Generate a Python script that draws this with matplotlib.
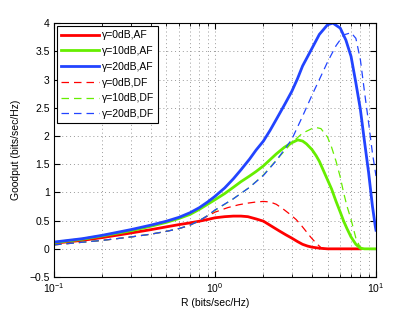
import matplotlib
matplotlib.use("Agg")
import matplotlib.pyplot as plt
from matplotlib.ticker import FixedLocator, LogLocator, NullFormatter

# values (R in bits/sec/Hz, goodput in bits/sec/Hz)
r_red_af = [0.1, 0.15, 0.2, 0.3, 0.4, 0.5, 0.6, 0.7, 0.8, 0.9, 1.0, 1.15, 1.3, 1.45, 1.6, 1.8,
            2.0, 2.25, 2.5, 2.75, 3.0, 3.25, 3.5, 3.75, 4.0, 4.5, 5.0, 6.0, 8.0]
g_red_af = [0.10, 0.15, 0.20, 0.28, 0.34, 0.39, 0.43, 0.46, 0.49, 0.52, 0.55, 0.57, 0.58, 0.58, 0.57, 0.53,
            0.49, 0.40, 0.32, 0.25, 0.19, 0.13, 0.08, 0.05, 0.03, 0.01, 0.0, 0.0, 0.0]

r_green_af = [0.1, 0.15, 0.2, 0.3, 0.4, 0.5, 0.6, 0.7, 0.8, 0.9, 1.0, 1.15, 1.3, 1.45, 1.64, 1.8,
              2.0, 2.2, 2.4, 2.7, 3.0, 3.27, 3.5, 3.7, 4.0, 4.25, 4.45, 4.9, 5.3, 5.65, 6.0, 6.3,
              6.6, 7.0, 7.5, 8.0, 8.5, 10.0]
g_green_af = [0.11, 0.17, 0.23, 0.32, 0.40, 0.47, 0.54, 0.61, 0.70, 0.79, 0.87, 0.98, 1.09, 1.19, 1.29, 1.37,
              1.47, 1.58, 1.68, 1.80, 1.88, 1.93, 1.91, 1.86, 1.76, 1.65, 1.55, 1.28, 1.06, 0.84, 0.65, 0.49,
              0.36, 0.21, 0.08, 0.01, 0.0, 0.0]

r_blue_af = [0.1, 0.15, 0.2, 0.3, 0.4, 0.5, 0.6, 0.7, 0.8, 0.9, 1.0, 1.15, 1.3, 1.45, 1.64, 1.8,
             2.0, 2.2, 2.4, 2.7, 3.0, 3.25, 3.5, 3.75, 4.0, 4.45, 5.0, 5.4, 6.0, 6.5, 7.0, 7.5,
             8.0, 8.45, 9.0, 9.5, 9.9, 10.0]
g_blue_af = [0.12, 0.18, 0.24, 0.34, 0.42, 0.49, 0.56, 0.64, 0.73, 0.83, 0.93, 1.08, 1.24, 1.40, 1.59, 1.75,
             1.91, 2.10, 2.29, 2.55, 2.79, 3.01, 3.24, 3.40, 3.55, 3.80, 3.97, 4.00, 3.91, 3.70, 3.41, 2.94,
             2.47, 1.94, 1.35, 0.76, 0.40, 0.33]

r_red_df = [0.1, 0.2, 0.3, 0.4, 0.5, 0.6, 0.7, 0.8, 0.9, 1.0, 1.2, 1.4, 1.6, 1.8, 2.0, 2.2,
            2.4, 2.64, 2.9, 3.19, 3.45, 3.68, 3.95, 4.25, 4.56, 4.8]
g_red_df = [0.07, 0.15, 0.21, 0.26, 0.31, 0.36, 0.42, 0.50, 0.58, 0.65, 0.73, 0.78, 0.81, 0.83, 0.84, 0.83,
            0.79, 0.71, 0.62, 0.52, 0.41, 0.31, 0.20, 0.10, 0.02, 0.0]

r_green_df = [0.1, 0.2, 0.3, 0.4, 0.5, 0.6, 0.7, 0.8, 0.9, 1.0, 1.29, 1.64, 2.0, 2.4, 3.0, 3.5,
              4.0, 4.25, 4.55, 5.0, 5.3, 5.65, 6.0, 6.3, 6.6, 7.0, 7.5, 7.9, 8.3]
g_green_df = [0.07, 0.15, 0.21, 0.26, 0.31, 0.36, 0.42, 0.50, 0.59, 0.68, 0.88, 1.09, 1.31, 1.57, 1.88, 2.05,
              2.13, 2.15, 2.13, 1.98, 1.80, 1.55, 1.27, 0.99, 0.76, 0.52, 0.19, 0.05, 0.0]

r_blue_df = [0.1, 0.2, 0.3, 0.4, 0.5, 0.6, 0.7, 0.8, 0.9, 1.0, 1.29, 1.64, 2.0, 2.4, 3.0, 3.5,
             4.0, 4.45, 5.0, 5.65, 6.3, 7.0, 7.5, 8.0, 8.45, 9.0, 9.5, 10.0]
g_blue_df = [0.07, 0.15, 0.21, 0.26, 0.31, 0.36, 0.42, 0.50, 0.59, 0.69, 0.88, 1.09, 1.30, 1.56, 1.94, 2.35,
             2.72, 3.00, 3.31, 3.60, 3.79, 3.83, 3.73, 3.35, 2.82, 2.23, 1.70, 1.29]

labels = ["\u03b3=0dB,AF", "\u03b3=10dB,AF", "\u03b3=20dB,AF",
          "\u03b3=0dB,DF", "\u03b3=10dB,DF", "\u03b3=20dB,DF"]

red = "#ff0000"
green = "#66ee00"
blue = "#2244ff"

plt.rcParams["font.family"] = ["Liberation Sans", "DejaVu Sans"]

fig = plt.figure(figsize=(4.15, 3.12), dpi=100)
ax = fig.add_axes([0.130, 0.112, 0.776, 0.814])

ax.plot(r_red_af, g_red_af, color=red, lw=2, label=labels[0])
ax.plot(r_green_af, g_green_af, color=green, lw=2, label=labels[1])
ax.plot(r_blue_af, g_blue_af, color=blue, lw=2, label=labels[2])
ax.plot(r_red_df, g_red_df, color=red, lw=0.9, ls=(0, (6, 4)), label=labels[3])
ax.plot(r_green_df, g_green_df, color=green, lw=0.9, ls=(0, (6, 4)), label=labels[4])
ax.plot(r_blue_df, g_blue_df, color=blue, lw=0.9, ls=(0, (6, 4)), label=labels[5])

ax.set_xscale("log")
ax.set_xlim(0.1, 10)
ax.set_ylim(-0.5, 4)
ax.yaxis.set_major_locator(FixedLocator([-0.5, 0, 0.5, 1, 1.5, 2, 2.5, 3, 3.5, 4]))
ax.set_yticklabels(["\u22120.5", "0", "0.5", "1", "1.5", "2", "2.5", "3", "3.5", "4"])
ax.xaxis.set_minor_locator(LogLocator(base=10, subs=range(2, 10)))
ax.xaxis.set_minor_formatter(NullFormatter())

ax.grid(True, which="major", color="#999999", ls=(0, (1, 3)), lw=0.7)
ax.grid(True, which="minor", axis="x", color="#999999", ls=(0, (1, 3)), lw=0.7)

ax.tick_params(which="both", direction="in", top=True, right=True, labelsize=7.5, pad=3)
ax.tick_params(which="major", length=4)
ax.tick_params(which="minor", length=2)

ax.set_xlabel("R (bits/sec/Hz)", fontsize=7.5, labelpad=2)
ax.set_ylabel("Goodput (bits/sec/Hz)", fontsize=7.5, labelpad=6)

leg = ax.legend(loc="upper left", fontsize=7.5, frameon=True, fancybox=False,
                edgecolor="black", framealpha=1, handlelength=3.6,
                borderpad=0.4, labelspacing=0.55, handletextpad=0.3,
                borderaxespad=0.3)
leg.get_frame().set_linewidth(0.8)

fig.savefig("out.png", dpi=100)
